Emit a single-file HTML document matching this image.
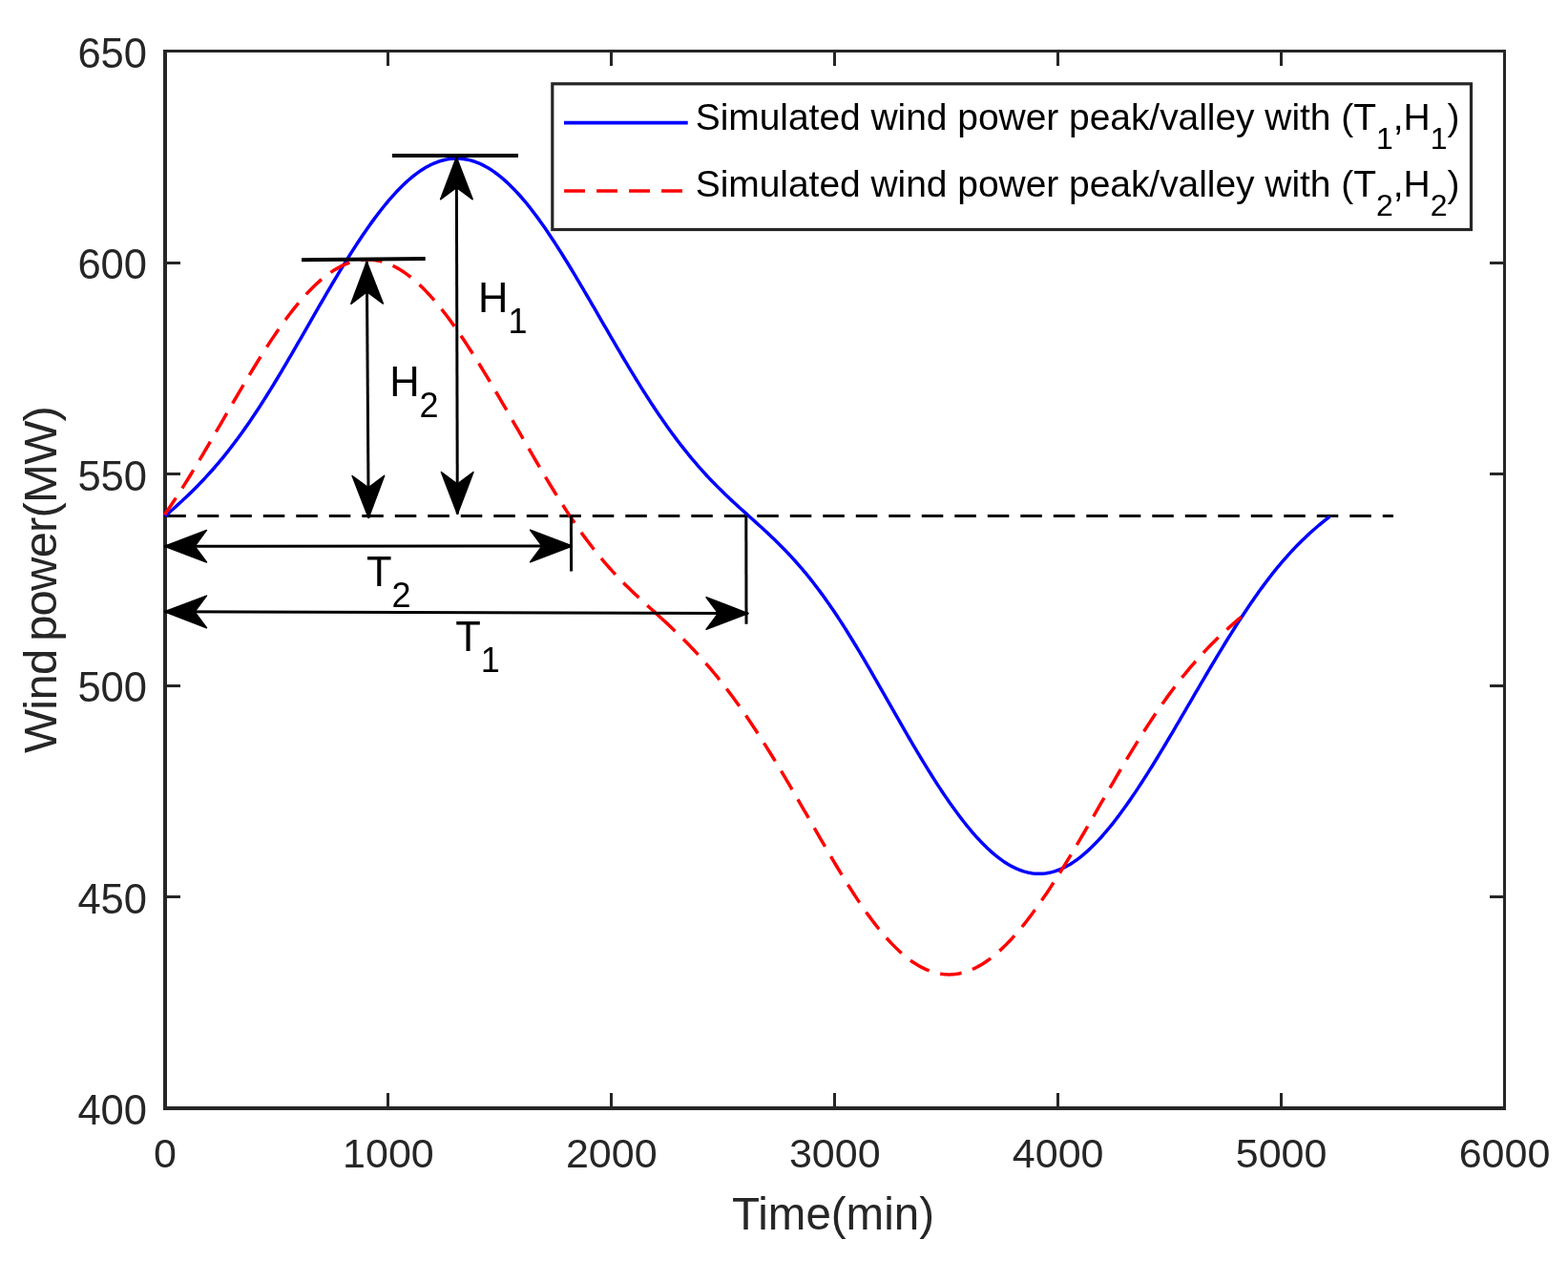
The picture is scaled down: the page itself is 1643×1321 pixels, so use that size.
<!DOCTYPE html>
<html><head><meta charset="utf-8"><title>Wind power</title>
<style>
html,body{margin:0;padding:0;background:#fff;width:1643px;height:1321px;overflow:hidden}
svg{display:block}
text{font-family:"Liberation Sans",Arial,Helvetica,sans-serif}
</style></head><body>
<svg width="1643" height="1321" viewBox="0 0 1643 1321">
<rect width="1643" height="1321" fill="#fff"/>
<rect x="171" y="52" width="4" height="1111" fill="#262626"/>
<rect x="1575" y="52" width="3" height="1111" fill="#262626"/>
<rect x="171" y="52" width="1407" height="3" fill="#262626"/>
<rect x="171" y="1159" width="1407" height="4" fill="#262626"/>
<rect x="175" y="938" width="14" height="3" fill="#262626"/>
<rect x="1561" y="938" width="14" height="3" fill="#262626"/>
<rect x="175" y="717" width="14" height="3" fill="#262626"/>
<rect x="1561" y="717" width="14" height="3" fill="#262626"/>
<rect x="175" y="495" width="14" height="3" fill="#262626"/>
<rect x="1561" y="495" width="14" height="3" fill="#262626"/>
<rect x="175" y="274" width="14" height="3" fill="#262626"/>
<rect x="1561" y="274" width="14" height="3" fill="#262626"/>
<rect x="405" y="1145" width="3" height="14" fill="#262626"/>
<rect x="405" y="55" width="3" height="14" fill="#262626"/>
<rect x="639" y="1145" width="3" height="14" fill="#262626"/>
<rect x="639" y="55" width="3" height="14" fill="#262626"/>
<rect x="873" y="1145" width="3" height="14" fill="#262626"/>
<rect x="873" y="55" width="3" height="14" fill="#262626"/>
<rect x="1107" y="1145" width="3" height="14" fill="#262626"/>
<rect x="1107" y="55" width="3" height="14" fill="#262626"/>
<rect x="1341" y="1145" width="3" height="14" fill="#262626"/>
<rect x="1341" y="55" width="3" height="14" fill="#262626"/>
<text x="154" y="1178.1" text-anchor="end" font-size="43.5" fill="#262626">400</text>
<text x="154" y="956.6" text-anchor="end" font-size="43.5" fill="#262626">450</text>
<text x="154" y="735.1" text-anchor="end" font-size="43.5" fill="#262626">500</text>
<text x="154" y="513.6" text-anchor="end" font-size="43.5" fill="#262626">550</text>
<text x="154" y="292.1" text-anchor="end" font-size="43.5" fill="#262626">600</text>
<text x="154" y="70.6" text-anchor="end" font-size="43.5" fill="#262626">650</text>
<text x="173.0" y="1223" text-anchor="middle" font-size="43" fill="#262626">0</text>
<text x="406.9" y="1223" text-anchor="middle" font-size="43" fill="#262626">1000</text>
<text x="640.8" y="1223" text-anchor="middle" font-size="43" fill="#262626">2000</text>
<text x="874.8" y="1223" text-anchor="middle" font-size="43" fill="#262626">3000</text>
<text x="1108.7" y="1223" text-anchor="middle" font-size="43" fill="#262626">4000</text>
<text x="1342.6" y="1223" text-anchor="middle" font-size="43" fill="#262626">5000</text>
<text x="1576.5" y="1223" text-anchor="middle" font-size="43" fill="#262626">6000</text>
<text x="873" y="1288" text-anchor="middle" font-size="47.5" fill="#262626">Time(min)</text>
<text transform="translate(59,607.5) rotate(-90)" x="0" y="0" text-anchor="middle" font-size="49" letter-spacing="-0.8" word-spacing="-4" fill="#262626">Wind power(MW)</text>
<line x1="172.3" y1="540.5" x2="1460" y2="540.5" stroke="#000" stroke-width="3" stroke-dasharray="22.5 12"/>
<path d="M172.80,540.84 L174.80,539.09 L176.80,537.33 L178.80,535.56 L180.80,533.78 L182.80,532.00 L184.80,530.20 L186.80,528.38 L188.80,526.55 L190.80,524.71 L192.80,522.84 L194.80,520.96 L196.80,519.06 L198.80,517.13 L200.80,515.18 L202.80,513.21 L204.80,511.22 L206.80,509.20 L208.80,507.15 L210.80,505.08 L212.80,502.97 L214.80,500.84 L216.80,498.68 L218.80,496.49 L220.80,494.27 L222.80,492.02 L224.80,489.73 L226.80,487.42 L228.80,485.07 L230.80,482.68 L232.80,480.27 L234.80,477.82 L236.80,475.34 L238.80,472.82 L240.80,470.27 L242.80,467.68 L244.80,465.06 L246.80,462.41 L248.80,459.72 L250.80,457.00 L252.80,454.24 L254.80,451.45 L256.80,448.63 L258.80,445.77 L260.80,442.88 L262.80,439.96 L264.80,437.00 L266.80,434.02 L268.80,431.00 L270.80,427.96 L272.80,424.88 L274.80,421.77 L276.80,418.64 L278.80,415.48 L280.80,412.29 L282.80,409.07 L284.80,405.83 L286.80,402.57 L288.80,399.28 L290.80,395.98 L292.80,392.65 L294.80,389.30 L296.80,385.93 L298.80,382.55 L300.80,379.14 L302.80,375.73 L304.80,372.30 L306.80,368.86 L308.80,365.41 L310.80,361.95 L312.80,358.48 L314.80,355.01 L316.80,351.53 L318.80,348.05 L320.80,344.56 L322.80,341.07 L324.80,337.59 L326.80,334.10 L328.80,330.62 L330.80,327.14 L332.80,323.67 L334.80,320.21 L336.80,316.75 L338.80,313.30 L340.80,309.87 L342.80,306.44 L344.80,303.03 L346.80,299.63 L348.80,296.25 L350.80,292.89 L352.80,289.55 L354.80,286.22 L356.80,282.91 L358.80,279.63 L360.80,276.37 L362.80,273.14 L364.80,269.93 L366.80,266.75 L368.80,263.59 L370.80,260.47 L372.80,257.38 L374.80,254.32 L376.80,251.29 L378.80,248.29 L380.80,245.34 L382.80,242.41 L384.80,239.53 L386.80,236.69 L388.80,233.88 L390.80,231.12 L392.80,228.40 L394.80,225.72 L396.80,223.09 L398.80,220.51 L400.80,217.97 L402.80,215.48 L404.80,213.04 L406.80,210.65 L408.80,208.31 L410.80,206.03 L412.80,203.80 L414.80,201.62 L416.80,199.50 L418.80,197.44 L420.80,195.44 L422.80,193.49 L424.80,191.61 L426.80,189.78 L428.80,188.02 L430.80,186.32 L432.80,184.69 L434.80,183.11 L436.80,181.61 L438.80,180.17 L440.80,178.80 L442.80,177.49 L444.80,176.25 L446.80,175.08 L448.80,173.98 L450.80,172.95 L452.80,171.99 L454.80,171.10 L456.80,170.27 L458.80,169.53 L460.80,168.85 L462.80,168.24 L464.80,167.71 L466.80,167.25 L468.80,166.86 L470.80,166.54 L472.80,166.30 L474.80,166.13 L476.80,166.04 L478.80,166.01 L480.80,166.06 L482.80,166.19 L484.80,166.39 L486.80,166.66 L488.80,167.00 L490.80,167.42 L492.80,167.91 L494.80,168.47 L496.80,169.11 L498.80,169.82 L500.80,170.60 L502.80,171.45 L504.80,172.37 L506.80,173.36 L508.80,174.43 L510.80,175.56 L512.80,176.77 L514.80,178.04 L516.80,179.38 L518.80,180.79 L520.80,182.27 L522.80,183.81 L524.80,185.42 L526.80,187.09 L528.80,188.83 L530.80,190.64 L532.80,192.50 L534.80,194.43 L536.80,196.42 L538.80,198.47 L540.80,200.58 L542.80,202.75 L544.80,204.97 L546.80,207.25 L548.80,209.59 L550.80,211.98 L552.80,214.42 L554.80,216.92 L556.80,219.47 L558.80,222.06 L560.80,224.71 L562.80,227.40 L564.80,230.14 L566.80,232.92 L568.80,235.74 L570.80,238.61 L572.80,241.52 L574.80,244.46 L576.80,247.44 L578.80,250.46 L580.80,253.51 L582.80,256.60 L584.80,259.71 L586.80,262.86 L588.80,266.03 L590.80,269.23 L592.80,272.46 L594.80,275.71 L596.80,278.98 L598.80,282.28 L600.80,285.59 L602.80,288.93 L604.80,292.28 L606.80,295.64 L608.80,299.02 L610.80,302.42 L612.80,305.83 L614.80,309.24 L616.80,312.67 L618.80,316.10 L620.80,319.54 L622.80,322.99 L624.80,326.44 L626.80,329.90 L628.80,333.35 L630.80,336.81 L632.80,340.26 L634.80,343.71 L636.80,347.16 L638.80,350.61 L640.80,354.05 L642.80,357.48 L644.80,360.90 L646.80,364.32 L648.80,367.72 L650.80,371.12 L652.80,374.50 L654.80,377.86 L656.80,381.22 L658.80,384.55 L660.80,387.87 L662.80,391.17 L664.80,394.45 L666.80,397.71 L668.80,400.95 L670.80,404.16 L672.80,407.36 L674.80,410.52 L676.80,413.67 L678.80,416.79 L680.80,419.88 L682.80,422.94 L684.80,425.98 L686.80,428.99 L688.80,431.97 L690.80,434.92 L692.80,437.84 L694.80,440.73 L696.80,443.58 L698.80,446.41 L700.80,449.21 L702.80,451.97 L704.80,454.71 L706.80,457.41 L708.80,460.08 L710.80,462.71 L712.80,465.32 L714.80,467.89 L716.80,470.43 L718.80,472.93 L720.80,475.41 L722.80,477.85 L724.80,480.26 L726.80,482.64 L728.80,484.99 L730.80,487.30 L732.80,489.59 L734.80,491.85 L736.80,494.07 L738.80,496.27 L740.80,498.44 L742.80,500.58 L744.80,502.69 L746.80,504.77 L748.80,506.83 L750.80,508.87 L752.80,510.88 L754.80,512.86 L756.80,514.83 L758.80,516.77 L760.80,518.70 L762.80,520.60 L764.80,522.49 L766.80,524.36 L768.80,526.21 L770.80,528.05 L772.80,529.88 L774.80,531.70 L776.80,533.51 L778.80,535.32 L780.80,537.12 L782.80,538.91 L784.80,540.70 L786.80,542.49 L788.80,544.29 L790.80,546.08 L792.80,547.88 L794.80,549.69 L796.80,551.51 L798.80,553.33 L800.80,555.17 L802.80,557.02 L804.80,558.89 L806.80,560.77 L808.80,562.66 L810.80,564.58 L812.80,566.52 L814.80,568.48 L816.80,570.46 L818.80,572.46 L820.80,574.49 L822.80,576.55 L824.80,578.64 L826.80,580.75 L828.80,582.90 L830.80,585.07 L832.80,587.28 L834.80,589.52 L836.80,591.79 L838.80,594.09 L840.80,596.43 L842.80,598.81 L844.80,601.22 L846.80,603.67 L848.80,606.15 L850.80,608.68 L852.80,611.23 L854.80,613.83 L856.80,616.46 L858.80,619.13 L860.80,621.84 L862.80,624.58 L864.80,627.37 L866.80,630.18 L868.80,633.04 L870.80,635.93 L872.80,638.86 L874.80,641.82 L876.80,644.82 L878.80,647.85 L880.80,650.91 L882.80,654.01 L884.80,657.14 L886.80,660.30 L888.80,663.49 L890.80,666.71 L892.80,669.96 L894.80,673.23 L896.80,676.53 L898.80,679.85 L900.80,683.20 L902.80,686.57 L904.80,689.96 L906.80,693.37 L908.80,696.79 L910.80,700.23 L912.80,703.69 L914.80,707.15 L916.80,710.63 L918.80,714.12 L920.80,717.62 L922.80,721.12 L924.80,724.63 L926.80,728.14 L928.80,731.65 L930.80,735.17 L932.80,738.68 L934.80,742.19 L936.80,745.70 L938.80,749.20 L940.80,752.70 L942.80,756.19 L944.80,759.68 L946.80,763.15 L948.80,766.61 L950.80,770.06 L952.80,773.50 L954.80,776.92 L956.80,780.32 L958.80,783.71 L960.80,787.08 L962.80,790.43 L964.80,793.76 L966.80,797.06 L968.80,800.35 L970.80,803.61 L972.80,806.84 L974.80,810.05 L976.80,813.23 L978.80,816.38 L980.80,819.50 L982.80,822.59 L984.80,825.65 L986.80,828.67 L988.80,831.66 L990.80,834.62 L992.80,837.54 L994.80,840.43 L996.80,843.27 L998.80,846.08 L1000.80,848.84 L1002.80,851.57 L1004.80,854.25 L1006.80,856.89 L1008.80,859.49 L1010.80,862.04 L1012.80,864.54 L1014.80,867.00 L1016.80,869.40 L1018.80,871.76 L1020.80,874.07 L1022.80,876.32 L1024.80,878.52 L1026.80,880.67 L1028.80,882.76 L1030.80,884.80 L1032.80,886.78 L1034.80,888.70 L1036.80,890.56 L1038.80,892.36 L1040.80,894.10 L1042.80,895.78 L1044.80,897.39 L1046.80,898.94 L1048.80,900.43 L1050.80,901.85 L1052.80,903.20 L1054.80,904.48 L1056.80,905.70 L1058.80,906.84 L1060.80,907.92 L1062.80,908.93 L1064.80,909.86 L1066.80,910.72 L1068.80,911.51 L1070.80,912.22 L1072.80,912.86 L1074.80,913.43 L1076.80,913.92 L1078.80,914.34 L1080.80,914.68 L1082.80,914.95 L1084.80,915.14 L1086.80,915.25 L1088.80,915.29 L1090.80,915.25 L1092.80,915.14 L1094.80,914.95 L1096.80,914.68 L1098.80,914.34 L1100.80,913.92 L1102.80,913.43 L1104.80,912.86 L1106.80,912.22 L1108.80,911.50 L1110.80,910.71 L1112.80,909.84 L1114.80,908.90 L1116.80,907.89 L1118.80,906.80 L1120.80,905.65 L1122.80,904.42 L1124.80,903.13 L1126.80,901.76 L1128.80,900.33 L1130.80,898.83 L1132.80,897.26 L1134.80,895.63 L1136.80,893.93 L1138.80,892.18 L1140.80,890.35 L1142.80,888.47 L1144.80,886.53 L1146.80,884.53 L1148.80,882.47 L1150.80,880.35 L1152.80,878.19 L1154.80,875.96 L1156.80,873.69 L1158.80,871.36 L1160.80,868.98 L1162.80,866.56 L1164.80,864.09 L1166.80,861.57 L1168.80,859.00 L1170.80,856.39 L1172.80,853.74 L1174.80,851.04 L1176.80,848.31 L1178.80,845.54 L1180.80,842.72 L1182.80,839.87 L1184.80,836.99 L1186.80,834.07 L1188.80,831.12 L1190.80,828.13 L1192.80,825.11 L1194.80,822.06 L1196.80,818.99 L1198.80,815.88 L1200.80,812.75 L1202.80,809.60 L1204.80,806.42 L1206.80,803.21 L1208.80,799.99 L1210.80,796.74 L1212.80,793.47 L1214.80,790.19 L1216.80,786.89 L1218.80,783.57 L1220.80,780.23 L1222.80,776.88 L1224.80,773.52 L1226.80,770.15 L1228.80,766.77 L1230.80,763.37 L1232.80,759.97 L1234.80,756.56 L1236.80,753.14 L1238.80,749.72 L1240.80,746.30 L1242.80,742.87 L1244.80,739.44 L1246.80,736.01 L1248.80,732.58 L1250.80,729.15 L1252.80,725.72 L1254.80,722.30 L1256.80,718.88 L1258.80,715.46 L1260.80,712.05 L1262.80,708.65 L1264.80,705.26 L1266.80,701.88 L1268.80,698.51 L1270.80,695.15 L1272.80,691.80 L1274.80,688.46 L1276.80,685.14 L1278.80,681.84 L1280.80,678.55 L1282.80,675.28 L1284.80,672.02 L1286.80,668.79 L1288.80,665.57 L1290.80,662.38 L1292.80,659.21 L1294.80,656.06 L1296.80,652.93 L1298.80,649.83 L1300.80,646.76 L1302.80,643.71 L1304.80,640.68 L1306.80,637.69 L1308.80,634.73 L1310.80,631.79 L1312.80,628.89 L1314.80,626.01 L1316.80,623.17 L1318.80,620.36 L1320.80,617.59 L1322.80,614.85 L1324.80,612.14 L1326.80,609.47 L1328.80,606.84 L1330.80,604.24 L1332.80,601.68 L1334.80,599.16 L1336.80,596.67 L1338.80,594.23 L1340.80,591.82 L1342.80,589.44 L1344.80,587.11 L1346.80,584.81 L1348.80,582.55 L1350.80,580.33 L1352.80,578.15 L1354.80,576.00 L1356.80,573.90 L1358.80,571.82 L1360.80,569.79 L1362.80,567.78 L1364.80,565.82 L1366.80,563.89 L1368.80,561.99 L1370.80,560.12 L1372.80,558.29 L1374.80,556.49 L1376.80,554.72 L1378.80,552.98 L1380.80,551.26 L1382.80,549.58 L1384.80,547.92 L1386.80,546.28 L1388.80,544.67 L1390.80,543.08 L1392.80,541.52 L1393.20,541.20" fill="none" stroke="#0000ff" stroke-width="3.5" stroke-linejoin="round"/>
<path d="M172.40,539.23 L174.40,536.38 L176.40,533.48 L178.40,530.56 L180.40,527.59 L182.40,524.59 L184.40,521.55 L186.40,518.49 L188.40,515.39 L190.40,512.26 L192.40,509.11 L194.40,505.92 L196.40,502.72 L198.40,499.48 L200.40,496.23 L202.40,492.95 L204.40,489.65 L206.40,486.33 L208.40,483.00 L210.40,479.65 L212.40,476.28 L214.40,472.90 L216.40,469.51 L218.40,466.10 L220.40,462.69 L222.40,459.26 L224.40,455.83 L226.40,452.40 L228.40,448.96 L230.40,445.51 L232.40,442.07 L234.40,438.62 L236.40,435.17 L238.40,431.73 L240.40,428.29 L242.40,424.85 L244.40,421.42 L246.40,418.00 L248.40,414.58 L250.40,411.18 L252.40,407.79 L254.40,404.41 L256.40,401.04 L258.40,397.69 L260.40,394.36 L262.40,391.04 L264.40,387.74 L266.40,384.47 L268.40,381.21 L270.40,377.98 L272.40,374.77 L274.40,371.59 L276.40,368.44 L278.40,365.32 L280.40,362.22 L282.40,359.16 L284.40,356.13 L286.40,353.14 L288.40,350.18 L290.40,347.25 L292.40,344.37 L294.40,341.52 L296.40,338.72 L298.40,335.96 L300.40,333.24 L302.40,330.56 L304.40,327.94 L306.40,325.36 L308.40,322.83 L310.40,320.34 L312.40,317.92 L314.40,315.54 L316.40,313.21 L318.40,310.94 L320.40,308.73 L322.40,306.57 L324.40,304.47 L326.40,302.43 L328.40,300.45 L330.40,298.53 L332.40,296.67 L334.40,294.88 L336.40,293.14 L338.40,291.47 L340.40,289.87 L342.40,288.33 L344.40,286.85 L346.40,285.45 L348.40,284.11 L350.40,282.83 L352.40,281.63 L354.40,280.49 L356.40,279.43 L358.40,278.43 L360.40,277.51 L362.40,276.65 L364.40,275.87 L366.40,275.16 L368.40,274.51 L370.40,273.95 L372.40,273.45 L374.40,273.02 L376.40,272.67 L378.40,272.39 L380.40,272.19 L382.40,272.05 L384.40,271.99 L386.40,272.01 L388.40,272.09 L390.40,272.25 L392.40,272.48 L394.40,272.79 L396.40,273.16 L398.40,273.61 L400.40,274.13 L402.40,274.73 L404.40,275.39 L406.40,276.13 L408.40,276.94 L410.40,277.81 L412.40,278.76 L414.40,279.78 L416.40,280.87 L418.40,282.03 L420.40,283.25 L422.40,284.54 L424.40,285.90 L426.40,287.33 L428.40,288.82 L430.40,290.38 L432.40,292.00 L434.40,293.69 L436.40,295.44 L438.40,297.25 L440.40,299.12 L442.40,301.06 L444.40,303.05 L446.40,305.10 L448.40,307.21 L450.40,309.38 L452.40,311.60 L454.40,313.88 L456.40,316.21 L458.40,318.59 L460.40,321.02 L462.40,323.51 L464.40,326.04 L466.40,328.62 L468.40,331.25 L470.40,333.92 L472.40,336.63 L474.40,339.39 L476.40,342.19 L478.40,345.03 L480.40,347.91 L482.40,350.83 L484.40,353.78 L486.40,356.77 L488.40,359.79 L490.40,362.84 L492.40,365.93 L494.40,369.05 L496.40,372.19 L498.40,375.37 L500.40,378.57 L502.40,381.79 L504.40,385.04 L506.40,388.31 L508.40,391.61 L510.40,394.92 L512.40,398.26 L514.40,401.61 L516.40,404.98 L518.40,408.36 L520.40,411.76 L522.40,415.17 L524.40,418.59 L526.40,422.03 L528.40,425.47 L530.40,428.92 L532.40,432.38 L534.40,435.84 L536.40,439.31 L538.40,442.78 L540.40,446.26 L542.40,449.73 L544.40,453.20 L546.40,456.68 L548.40,460.15 L550.40,463.61 L552.40,467.07 L554.40,470.52 L556.40,473.97 L558.40,477.41 L560.40,480.83 L562.40,484.25 L564.40,487.65 L566.40,491.04 L568.40,494.41 L570.40,497.77 L572.40,501.11 L574.40,504.43 L576.40,507.73 L578.40,511.01 L580.40,514.27 L582.40,517.50 L584.40,520.71 L586.40,523.89 L588.40,527.05 L590.40,530.17 L592.40,533.27 L594.40,536.34 L596.40,539.37 L598.40,542.37 L600.40,545.34 L602.40,548.27 L604.40,551.17 L606.40,554.03 L608.40,556.86 L610.40,559.65 L612.40,562.40 L614.40,565.11 L616.40,567.79 L618.40,570.42 L620.40,573.02 L622.40,575.58 L624.40,578.10 L626.40,580.59 L628.40,583.04 L630.40,585.44 L632.40,587.82 L634.40,590.15 L636.40,592.45 L638.40,594.72 L640.40,596.94 L642.40,599.14 L644.40,601.30 L646.40,603.44 L648.40,605.54 L650.40,607.61 L652.40,609.65 L654.40,611.67 L656.40,613.66 L658.40,615.62 L660.40,617.57 L662.40,619.49 L664.40,621.39 L666.40,623.28 L668.40,625.15 L670.40,627.01 L672.40,628.86 L674.40,630.69 L676.40,632.52 L678.40,634.35 L680.40,636.17 L682.40,637.99 L684.40,639.80 L686.40,641.62 L688.40,643.44 L690.40,645.27 L692.40,647.10 L692.84,647.50" fill="none" stroke="#ff0000" stroke-width="3.5" stroke-dasharray="22.5 12" stroke-dashoffset="1.2" stroke-linejoin="round"/>
<path d="M692.84,647.50 L694.40,648.93 L696.40,650.78 L698.40,652.63 L700.40,654.50 L702.40,656.38 L704.40,658.27 L706.40,660.18 L708.40,662.10 L710.40,664.04 L712.40,666.00 L714.40,667.98 L716.40,669.97 L718.40,671.99 L720.40,674.03 L722.40,676.09 L724.40,678.18 L726.40,680.29 L728.40,682.42 L730.40,684.58 L732.40,686.77 L734.40,688.98 L736.40,691.22 L738.40,693.49 L740.40,695.78 L742.40,698.11 L744.40,700.46 L746.40,702.84 L748.40,705.25 L750.40,707.70 L752.40,710.17 L754.40,712.67 L756.40,715.20 L758.40,717.76 L760.40,720.35 L762.40,722.97 L764.40,725.62 L766.40,728.30 L768.40,731.00 L770.40,733.74 L772.40,736.51 L774.40,739.31 L776.40,742.14 L778.40,744.99 L780.40,747.87 L782.40,750.79 L784.40,753.73 L786.40,756.69 L788.40,759.69 L790.40,762.71 L792.40,765.76 L794.40,768.83 L796.40,771.93 L798.40,775.05 L800.40,778.20 L802.40,781.37 L804.40,784.56 L806.40,787.77 L808.40,791.01 L810.40,794.27 L812.40,797.54 L814.40,800.84 L816.40,804.16 L818.40,807.49 L820.40,810.84 L822.40,814.20 L824.40,817.59 L826.40,820.98 L828.40,824.39 L830.40,827.81 L832.40,831.24 L834.40,834.68 L836.40,838.13 L838.40,841.58 L840.40,845.05 L842.40,848.52 L844.40,851.99 L846.40,855.47 L848.40,858.94 L850.40,862.42 L852.40,865.90 L854.40,869.37 L856.40,872.84 L858.40,876.31 L860.40,879.77 L862.40,883.22 L864.40,886.66 L866.40,890.09 L868.40,893.51 L870.40,896.91 L872.40,900.30 L874.40,903.67 L876.40,907.02 L878.40,910.35 L880.40,913.66 L882.40,916.94 L884.40,920.20 L886.40,923.43 L888.40,926.63 L890.40,929.79 L892.40,932.93 L894.40,936.03 L896.40,939.09 L898.40,942.12 L900.40,945.11 L902.40,948.05 L904.40,950.96 L906.40,953.82 L908.40,956.64 L910.40,959.40 L912.40,962.13 L914.40,964.80 L916.40,967.42 L918.40,969.99 L920.40,972.51 L922.40,974.98 L924.40,977.39 L926.40,979.74 L928.40,982.04 L930.40,984.28 L932.40,986.46 L934.40,988.58 L936.40,990.64 L938.40,992.63 L940.40,994.57 L942.40,996.44 L944.40,998.25 L946.40,999.99 L948.40,1001.66 L950.40,1003.27 L952.40,1004.82 L954.40,1006.29 L956.40,1007.70 L958.40,1009.03 L960.40,1010.30 L962.40,1011.50 L964.40,1012.63 L966.40,1013.68 L968.40,1014.67 L970.40,1015.58 L972.40,1016.43 L974.40,1017.20 L976.40,1017.89 L978.40,1018.52 L980.40,1019.07 L982.40,1019.55 L984.40,1019.95 L986.40,1020.28 L988.40,1020.54 L990.40,1020.73 L992.40,1020.84 L994.40,1020.88 L996.40,1020.84 L998.40,1020.73 L1000.40,1020.55 L1002.40,1020.30 L1004.40,1019.97 L1006.40,1019.57 L1008.40,1019.10 L1010.40,1018.55 L1012.40,1017.94 L1014.40,1017.25 L1016.40,1016.49 L1018.40,1015.66 L1020.40,1014.76 L1022.40,1013.80 L1024.40,1012.76 L1026.40,1011.65 L1028.40,1010.48 L1030.40,1009.24 L1032.40,1007.93 L1034.40,1006.56 L1036.40,1005.12 L1038.40,1003.62 L1040.40,1002.05 L1042.40,1000.42 L1044.40,998.73 L1046.40,996.97 L1048.40,995.16 L1050.40,993.29 L1052.40,991.36 L1054.40,989.37 L1056.40,987.33 L1058.40,985.23 L1060.40,983.07 L1062.40,980.86 L1064.40,978.60 L1066.40,976.29 L1068.40,973.93 L1070.40,971.52 L1072.40,969.06 L1074.40,966.55 L1076.40,964.00 L1078.40,961.40 L1080.40,958.76 L1082.40,956.07 L1084.40,953.34 L1086.40,950.57 L1088.40,947.77 L1090.40,944.92 L1092.40,942.03 L1094.40,939.11 L1096.40,936.15 L1098.40,933.16 L1100.40,930.14 L1102.40,927.08 L1104.40,923.99 L1106.40,920.87 L1108.40,917.73 L1110.40,914.55 L1112.40,911.35 L1114.40,908.13 L1116.40,904.88 L1118.40,901.61 L1120.40,898.32 L1122.40,895.00 L1124.40,891.67 L1126.40,888.32 L1128.40,884.95 L1130.40,881.57 L1132.40,878.17 L1134.40,874.76 L1136.40,871.34 L1138.40,867.91 L1140.40,864.47 L1142.40,861.02 L1144.40,857.57 L1146.40,854.11 L1148.40,850.64 L1150.40,847.18 L1152.40,843.71 L1154.40,840.24 L1156.40,836.78 L1158.40,833.31 L1160.40,829.85 L1162.40,826.40 L1164.40,822.95 L1166.40,819.51 L1168.40,816.08 L1170.40,812.67 L1172.40,809.26 L1174.40,805.87 L1176.40,802.49 L1178.40,799.13 L1180.40,795.78 L1182.40,792.46 L1184.40,789.15 L1186.40,785.86 L1188.40,782.59 L1190.40,779.35 L1192.40,776.13 L1194.40,772.93 L1196.40,769.76 L1198.40,766.62 L1200.40,763.50 L1202.40,760.41 L1204.40,757.34 L1206.40,754.31 L1208.40,751.30 L1210.40,748.32 L1212.40,745.38 L1214.40,742.46 L1216.40,739.58 L1218.40,736.72 L1220.40,733.90 L1222.40,731.11 L1224.40,728.36 L1226.40,725.63 L1228.40,722.94 L1230.40,720.28 L1232.40,717.66 L1234.40,715.07 L1236.40,712.51 L1238.40,709.98 L1240.40,707.49 L1242.40,705.04 L1244.40,702.61 L1246.40,700.22 L1248.40,697.86 L1250.40,695.53 L1252.40,693.24 L1254.40,690.98 L1256.40,688.75 L1258.40,686.55 L1260.40,684.38 L1262.40,682.24 L1264.40,680.13 L1266.40,678.05 L1268.40,676.00 L1270.40,673.98 L1272.40,671.98 L1274.40,670.02 L1276.40,668.07 L1278.40,666.16 L1280.40,664.26 L1282.40,662.39 L1284.40,660.55 L1286.40,658.72 L1288.40,656.92 L1290.40,655.13 L1292.40,653.37 L1294.40,651.62 L1296.40,649.88 L1298.40,648.17 L1300.40,646.46 L1300.60,646.29" fill="none" stroke="#ff0000" stroke-width="3.5" stroke-dasharray="22.5 12" stroke-dashoffset="2.5" stroke-linejoin="round"/>
<line x1="411" y1="163" x2="543" y2="163" stroke="#000" stroke-width="4"/>
<line x1="316" y1="272.3" x2="445.7" y2="271" stroke="#000" stroke-width="4"/>
<line x1="478.3" y1="164.8" x2="479.3" y2="538.6" stroke="#000" stroke-width="3"/><polygon points="478.3,164.8 495.2,208.8 478.4,196.3 461.6,208.8" fill="#000" stroke="#000" stroke-width="1.5" stroke-linejoin="round"/><polygon points="479.3,538.6 462.4,494.6 479.2,507.1 496.0,494.6" fill="#000" stroke="#000" stroke-width="1.5" stroke-linejoin="round"/>
<line x1="384.3" y1="274.2" x2="386.2" y2="542.4" stroke="#000" stroke-width="3"/><polygon points="384.3,274.2 401.4,318.1 384.5,305.7 367.8,318.3" fill="#000" stroke="#000" stroke-width="1.5" stroke-linejoin="round"/><polygon points="386.2,542.4 369.1,498.5 386.0,510.9 402.7,498.3" fill="#000" stroke="#000" stroke-width="1.5" stroke-linejoin="round"/>
<line x1="172.5" y1="572.2" x2="599.6" y2="572.0" stroke="#000" stroke-width="3"/><polygon points="172.5,572.2 216.5,555.4 204.0,572.2 216.5,589.0" fill="#000" stroke="#000" stroke-width="1.5" stroke-linejoin="round"/><polygon points="599.6,572.0 555.6,588.8 568.1,572.0 555.6,555.2" fill="#000" stroke="#000" stroke-width="1.5" stroke-linejoin="round"/>
<line x1="172.5" y1="640.8" x2="784.1" y2="642.6" stroke="#000" stroke-width="3"/><polygon points="172.5,640.8 216.5,624.1 204.0,640.9 216.5,657.7" fill="#000" stroke="#000" stroke-width="1.5" stroke-linejoin="round"/><polygon points="784.1,642.6 740.1,659.3 752.6,642.5 740.1,625.7" fill="#000" stroke="#000" stroke-width="1.5" stroke-linejoin="round"/>
<line x1="598.4" y1="539.5" x2="598.6" y2="598.6" stroke="#000" stroke-width="3"/>
<line x1="781.8" y1="540.2" x2="782" y2="653.7" stroke="#000" stroke-width="3"/>
<text x="501" y="327.1" font-size="43.5" fill="#000">H<tspan font-size="36" dy="22">1</tspan></text>
<text x="408.2" y="414.8" font-size="43.5" fill="#000">H<tspan font-size="36" dy="22">2</tspan></text>
<text x="384" y="613.9" font-size="43.5" fill="#000">T<tspan font-size="36" dy="22">2</tspan></text>
<text x="477.2" y="681.9" font-size="43.5" fill="#000">T<tspan font-size="36" dy="22">1</tspan></text>
<rect x="578.8" y="87.8" width="962.7" height="152.7" fill="#fff" stroke="#262626" stroke-width="3.2"/>
<line x1="591" y1="128.6" x2="720.7" y2="128.6" stroke="#0000ff" stroke-width="3.6"/>
<line x1="591.1" y1="200" x2="716.7" y2="200" stroke="#ff0000" stroke-width="3.6" stroke-dasharray="21.9 12.1"/>
<text x="728.7" y="135.5" font-size="39" letter-spacing="-0.05" fill="#000">Simulated wind power peak/valley with (T<tspan font-size="32" dy="20">1</tspan><tspan dy="-20">,H</tspan><tspan font-size="32" dy="20">1</tspan><tspan dy="-20">)</tspan></text>
<text x="728.7" y="206" font-size="39" letter-spacing="-0.05" fill="#000">Simulated wind power peak/valley with (T<tspan font-size="32" dy="20">2</tspan><tspan dy="-20">,H</tspan><tspan font-size="32" dy="20">2</tspan><tspan dy="-20">)</tspan></text>
</svg>
</body></html>
